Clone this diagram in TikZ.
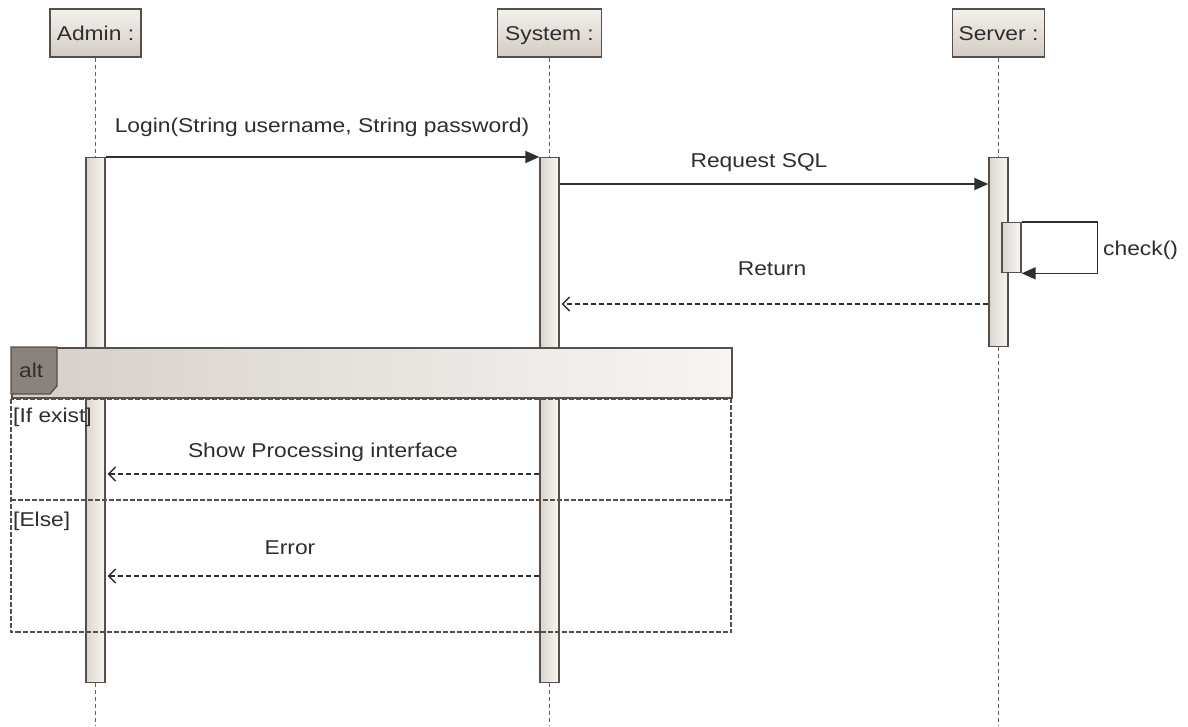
\documentclass[tikz,border=0pt]{standalone}
\usepackage{fontspec}
\setmainfont{Liberation Sans}[FakeStretch=1.14]
\usetikzlibrary{arrows.meta}

\definecolor{ink}{HTML}{2E2E2E}
\definecolor{edge}{HTML}{55504C}
\definecolor{boxtop}{HTML}{F3F0EC}
\definecolor{boxbot}{HTML}{D4CCC4}
\definecolor{barleft}{HTML}{DCD5CE}
\definecolor{barright}{HTML}{F8F6F3}
\definecolor{bandleft}{HTML}{D6CFC8}
\definecolor{bandright}{HTML}{F7F6F4}
\definecolor{tabfill}{HTML}{8A837C}

\tikzset{
  lbl/.style={font=\fontsize{20}{24}\selectfont, text=ink, inner sep=0pt},
  headbox/.style={draw=edge, line width=1.5pt, top color=boxtop, bottom color=boxbot,
    minimum height=48pt, inner sep=0pt, text height=14pt, text depth=0pt,
    font=\fontsize{20}{24}\selectfont, text=ink},
  actbar/.style={draw=edge, line width=1.3pt, left color=barleft, right color=barright,
    minimum width=19pt, inner sep=0pt, anchor=north},
  lifeline/.style={draw=edge!90, line width=1.1pt, dash pattern=on 4pt off 3pt},
  sync/.style={draw=ink, line width=1.5pt, -{Triangle[length=14pt,width=12pt]}},
  ret/.style={draw=ink, line width=1.4pt, dash pattern=on 5pt off 3pt,
    -{Straight Barb[length=7pt,width=14pt]}, shorten >=2pt},
  fragline/.style={draw=edge, line width=2pt, dash pattern=on 5pt off 2pt},
}

\begin{document}
\begin{tikzpicture}[x=1pt, y=-1pt]
\useasboundingbox[fill=white] (0,0) rectangle (1188,726);

% message levels
\coordinate (yLogin) at (0,157);
\coordinate (yReq) at (0,184);
\coordinate (yRet) at (0,304);
\coordinate (yShow) at (0,474);
\coordinate (yErr) at (0,576);
\coordinate (yEnd) at (0,726);

% lifeline heads
\node[headbox, minimum width=91pt] (adminH) at (95.5,33) {Admin :};
\node[headbox, minimum width=104pt] (systemH) at (549.5,33) {System :};
\node[headbox, minimum width=92pt] (serverH) at (998.5,33) {Server :};

% activation bars
\node[actbar, minimum height=525pt] (adminA) at (95.5,157) {};
\node[actbar, minimum height=525pt] (systemA) at (549.5,157) {};
\node[actbar, minimum height=189pt] (serverA) at (998.5,157) {};
\node[actbar, minimum height=50pt] (checkA) at (1011.5,222) {};

% lifelines
\draw[lifeline] (adminH.south) -- (adminA.north);
\draw[lifeline] (adminA.south) -- (adminA.south |- yEnd);
\draw[lifeline] (systemH.south) -- (systemA.north);
\draw[lifeline] (systemA.south) -- (systemA.south |- yEnd);
\draw[lifeline] (serverH.south) -- (serverA.north);
\draw[lifeline] (serverA.south) -- (serverA.south |- yEnd);

% messages
\draw[sync] (adminA.east |- yLogin) -- (systemA.west |- yLogin);
\node[lbl, anchor=base] (tLogin) at (322,132) {Login(String username, String password)};

\draw[sync] (systemA.east |- yReq) -- (serverA.west |- yReq);
\node[lbl, anchor=base] (tReq) at (759,167) {Request SQL};

\draw[sync] (checkA.north east) -- ++(76,0) |- (checkA.south east);
\node[lbl, anchor=base west] (tCheck) at (1103,255) {check()};

\draw[ret] (serverA.west |- yRet) -- (systemA.east |- yRet);
\node[lbl, anchor=base] (tRet) at (772,275) {Return};

% combined fragment
\node[draw=edge, line width=1.5pt, left color=bandleft, right color=bandright,
  minimum width=720pt, minimum height=50pt, inner sep=0pt, anchor=north west]
  (altHead) at (11,347) {};
\draw[fill=tabfill, draw=edge, line width=1.3pt]
  (altHead.north west) -- (57,347) -- (57,386) -- (50,394) -- (11,394) -- cycle;
\node[lbl, anchor=base west] (tAlt) at (19,377) {alt};

\coordinate (fragBR) at (731,632);
\draw[fragline] (altHead.south west) rectangle (fragBR);
\draw[fragline, line width=2.6pt] (11,500) -- (731,500);

\node[lbl, anchor=base west] (tIf) at (13,422) {[If exist]};
\node[lbl, anchor=base west] (tElse) at (13,526) {[Else]};

\draw[ret] (systemA.west |- yShow) -- (adminA.east |- yShow);
\node[lbl, anchor=base] (tShow) at (323,457) {Show Processing interface};

\draw[ret] (systemA.west |- yErr) -- (adminA.east |- yErr);
\node[lbl, anchor=base] (tErr) at (290,554) {Error};
\end{tikzpicture}
\end{document}
